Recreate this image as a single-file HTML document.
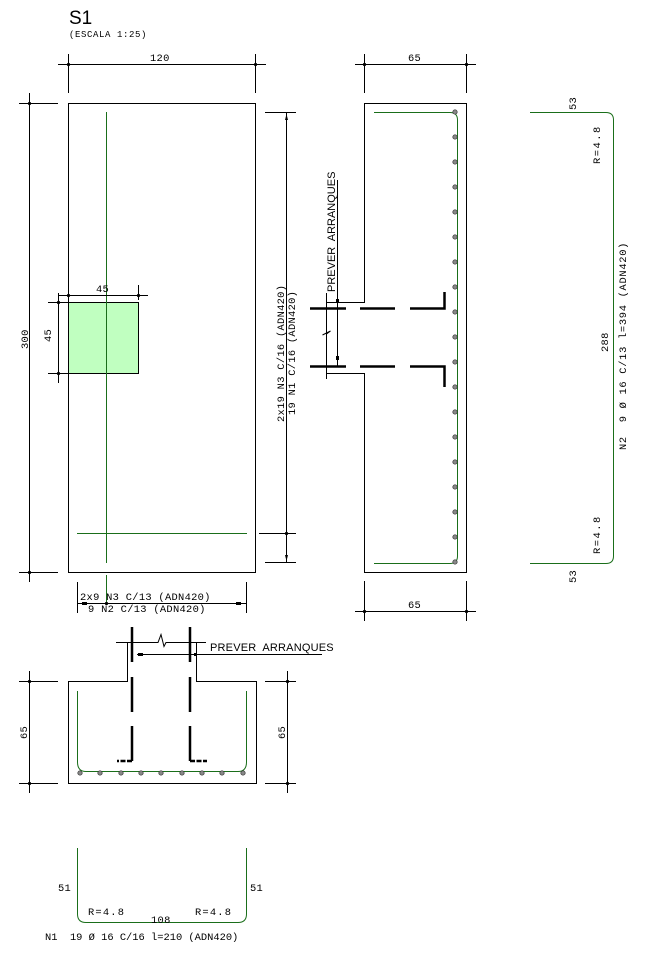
<!DOCTYPE html>
<html><head><meta charset="utf-8"><style>
html,body{margin:0;padding:0;background:#fff}
svg{display:block}
text{font-family:"Liberation Mono","DejaVu Sans Mono",monospace;font-size:10.4px;letter-spacing:0.3px;fill:#000;white-space:pre}
.k{stroke:#000;stroke-width:1;fill:none}
.g{stroke:#1a6e1a;stroke-width:1;fill:none}
.b{stroke:#000;stroke-width:2.5;fill:none}
.d{fill:#888;stroke:#333;stroke-width:0.7}
</style></head><body>
<svg width="649" height="968" viewBox="0 0 649 968" xmlns="http://www.w3.org/2000/svg" xml:space="preserve">
<text x="69" y="24" style="font-family:'Liberation Sans',sans-serif;font-size:19px;letter-spacing:0">S1</text>
<text x="69" y="37" style="font-size:9px;letter-spacing:0.6px">(ESCALA 1:25)</text>

<rect x="68.5" y="103.5" width="187" height="469" class="k"/>
<rect x="68.5" y="302.5" width="70" height="71" fill="#c0ffc0" stroke="#000"/>
<line x1="106.5" y1="112" x2="106.5" y2="563" class="g"/>
<line x1="77" y1="533.5" x2="247" y2="533.5" class="g"/>
<line x1="106.5" y1="575" x2="106.5" y2="603" class="g"/>
<line x1="58" y1="64.5" x2="266" y2="64.5" class="k"/>
<line x1="68.5" y1="54" x2="68.5" y2="93" class="k"/>
<line x1="255.5" y1="54" x2="255.5" y2="93" class="k"/>
<circle cx="68.5" cy="64.5" r="1.6"/><circle cx="255.5" cy="64.5" r="1.6"/>
<text x="150" y="61">120</text>
<line x1="29.5" y1="93" x2="29.5" y2="582" class="k"/>
<line x1="19" y1="103.5" x2="58" y2="103.5" class="k"/>
<line x1="19" y1="572.5" x2="58" y2="572.5" class="k"/>
<circle cx="29.5" cy="103.5" r="1.6"/><circle cx="29.5" cy="572.5" r="1.6"/>
<text transform="translate(28,349) rotate(-90)">300</text>
<line x1="58" y1="295.5" x2="148" y2="295.5" class="k"/>
<line x1="138.5" y1="285" x2="138.5" y2="300" class="k"/>
<circle cx="68.5" cy="295.5" r="1.6"/><circle cx="138.5" cy="295.5" r="1.6"/>
<text x="96" y="292">45</text>
<line x1="58.5" y1="293" x2="58.5" y2="383" class="k"/>
<line x1="48" y1="302.5" x2="68" y2="302.5" class="k"/>
<line x1="48" y1="373.5" x2="68" y2="373.5" class="k"/>
<circle cx="58.5" cy="302.5" r="1.6"/><circle cx="58.5" cy="373.5" r="1.6"/>
<text transform="translate(51,342) rotate(-90)">45</text>
<line x1="286.5" y1="113" x2="286.5" y2="563" class="k"/>
<line x1="265" y1="112.5" x2="296" y2="112.5" class="k"/>
<line x1="265" y1="562.5" x2="296" y2="562.5" class="k"/>
<line x1="259" y1="533.5" x2="296" y2="533.5" class="k"/>
<circle cx="286.5" cy="533.5" r="1.6"/>
<path d="M286.5 114 l-1.5 6 h3 z M286.5 561 l-1.5 -6 h3 z"/>
<text transform="translate(284,422) rotate(-90)">2x19 N3 C/16 (ADN420)</text>
<text transform="translate(295,415) rotate(-90)">19 N1 C/16 (ADN420)</text>
<line x1="77" y1="603.5" x2="247" y2="603.5" class="k"/>
<line x1="77.5" y1="582" x2="77.5" y2="613" class="k"/>
<line x1="246.5" y1="582" x2="246.5" y2="613" class="k"/>
<rect x="82" y="602" width="5" height="3"/><rect x="236" y="602" width="5" height="3"/>
<circle cx="106.5" cy="603.5" r="1.6"/>
<text x="80" y="600">2x9 N3 C/13 (ADN420)</text>
<text x="88" y="612">9 N2 C/13 (ADN420)</text>

<path d="M337 302.5 H364.5 V103.5 H466.5 V572.5 H364.5 V373.5 H326" class="k"/>
<line x1="364.5" y1="302.5" x2="326" y2="302.5" class="k"/>
<path d="M326.5 293 V333 l-4 2 l8 -4 l-4 3 V379" class="k"/>
<line x1="337.5" y1="180" x2="337.5" y2="366" class="k"/>
<rect x="336" y="299" width="3" height="4"/><rect x="336" y="356" width="3" height="4"/>
<text transform="translate(335,292) rotate(-90)" style="font-family:'Liberation Sans',sans-serif;font-size:11px;letter-spacing:0">PREVER  ARRANQUES</text>
<path d="M310 308.5 H346 M360 308.5 H395 M410 308.5 H444.5 V292" class="b"/>
<path d="M310 366.5 H346 M360 366.5 H395 M410 366.5 H444.5 V387" class="b"/>
<path d="M374 112.5 H450 Q457.5 112.5 457.5 120 V556 Q457.5 563.5 450 563.5 H374" class="g"/>
<g>
<circle class="d" cx="455" cy="112" r="2.2"/><circle class="d" cx="455" cy="137" r="2.2"/><circle class="d" cx="455" cy="162" r="2.2"/><circle class="d" cx="455" cy="187" r="2.2"/><circle class="d" cx="455" cy="212" r="2.2"/><circle class="d" cx="455" cy="237" r="2.2"/><circle class="d" cx="455" cy="262" r="2.2"/><circle class="d" cx="455" cy="287" r="2.2"/><circle class="d" cx="455" cy="312" r="2.2"/><circle class="d" cx="455" cy="337" r="2.2"/><circle class="d" cx="455" cy="362" r="2.2"/><circle class="d" cx="455" cy="387" r="2.2"/><circle class="d" cx="455" cy="412" r="2.2"/><circle class="d" cx="455" cy="437" r="2.2"/><circle class="d" cx="455" cy="462" r="2.2"/><circle class="d" cx="455" cy="487" r="2.2"/><circle class="d" cx="455" cy="512" r="2.2"/><circle class="d" cx="455" cy="537" r="2.2"/><circle class="d" cx="455" cy="562" r="2.2"/>
</g>
<line x1="355" y1="64.5" x2="476" y2="64.5" class="k"/>
<line x1="364.5" y1="54" x2="364.5" y2="93" class="k"/>
<line x1="466.5" y1="54" x2="466.5" y2="93" class="k"/>
<circle cx="364.5" cy="64.5" r="1.6"/><circle cx="466.5" cy="64.5" r="1.6"/>
<text x="408" y="61">65</text>
<line x1="355" y1="611.5" x2="476" y2="611.5" class="k"/>
<line x1="364.5" y1="581" x2="364.5" y2="621" class="k"/>
<line x1="466.5" y1="581" x2="466.5" y2="621" class="k"/>
<circle cx="364.5" cy="611.5" r="1.6"/><circle cx="466.5" cy="611.5" r="1.6"/>
<text x="408" y="608">65</text>

<path d="M530 112.5 H606 Q613.5 112.5 613.5 120 V556 Q613.5 563.5 606 563.5 H530" class="g"/>
<text transform="translate(576,110) rotate(-90)">53</text>
<text transform="translate(600,164) rotate(-90)" style="letter-spacing:1.5px">R=4.8</text>
<text transform="translate(608,352) rotate(-90)">288</text>
<text transform="translate(626,450) rotate(-90)" style="letter-spacing:0.7px">N2  9 Ø 16 C/13 l=394 (ADN420)</text>
<text transform="translate(600,554) rotate(-90)" style="letter-spacing:1.5px">R=4.8</text>
<text transform="translate(576,583) rotate(-90)">53</text>

<path d="M127.5 642 V681.5 H68.5 V783.5 H256.5 V681.5 H196.5 V642" class="k"/>
<path d="M116 642.5 H158 l3 -8 l3 12 l2 -4 H206" class="k"/>
<line x1="137" y1="654.5" x2="322" y2="654.5" class="k"/>
<rect x="138" y="653" width="5" height="3"/><rect x="194" y="653" width="3" height="3"/>
<text x="210" y="651" style="font-family:'Liberation Sans',sans-serif;font-size:11px;letter-spacing:0.2px">PREVER  ARRANQUES</text>
<path d="M132 627 V662 M132 677 V712 M132 726 V761 M190 627 V662 M190 677 V712 M190 726 V761" class="b"/>
<path d="M132 761 H117 M190 761 H207" class="b" stroke-width="2" stroke-dasharray="5 1.5"/>
<path d="M77.5 691 V762 Q77.5 771.5 86 771.5 H238 Q246.5 771.5 246.5 762 V691" class="g"/>
<g>
<circle class="d" cx="80" cy="773" r="2.2"/><circle class="d" cx="100" cy="773" r="2.2"/><circle class="d" cx="121" cy="773" r="2.2"/><circle class="d" cx="141" cy="773" r="2.2"/><circle class="d" cx="161" cy="773" r="2.2"/><circle class="d" cx="182" cy="773" r="2.2"/><circle class="d" cx="202" cy="773" r="2.2"/><circle class="d" cx="222" cy="773" r="2.2"/><circle class="d" cx="243" cy="773" r="2.2"/>
</g>
<line x1="29.5" y1="671" x2="29.5" y2="793" class="k"/>
<line x1="19" y1="681.5" x2="58" y2="681.5" class="k"/>
<line x1="19" y1="783.5" x2="58" y2="783.5" class="k"/>
<circle cx="29.5" cy="681.5" r="1.6"/><circle cx="29.5" cy="783.5" r="1.6"/>
<text transform="translate(27,739) rotate(-90)">65</text>
<line x1="287.5" y1="671" x2="287.5" y2="793" class="k"/>
<line x1="265" y1="681.5" x2="296" y2="681.5" class="k"/>
<line x1="265" y1="783.5" x2="296" y2="783.5" class="k"/>
<circle cx="287.5" cy="681.5" r="1.6"/><circle cx="287.5" cy="783.5" r="1.6"/>
<text transform="translate(285,739) rotate(-90)">65</text>

<path d="M77.5 848 V914 Q77.5 922.5 86 922.5 H238 Q246.5 922.5 246.5 914 V848" class="g"/>
<text x="58" y="891">51</text>
<text x="250" y="891">51</text>
<text x="88" y="915" style="letter-spacing:1.2px">R=4.8</text>
<text x="195" y="915" style="letter-spacing:1.2px">R=4.8</text>
<text x="151" y="923">108</text>
<text x="45" y="940" style="letter-spacing:0">N1  19 Ø 16 C/16 l=210 (ADN420)</text>
</svg>
</body></html>
